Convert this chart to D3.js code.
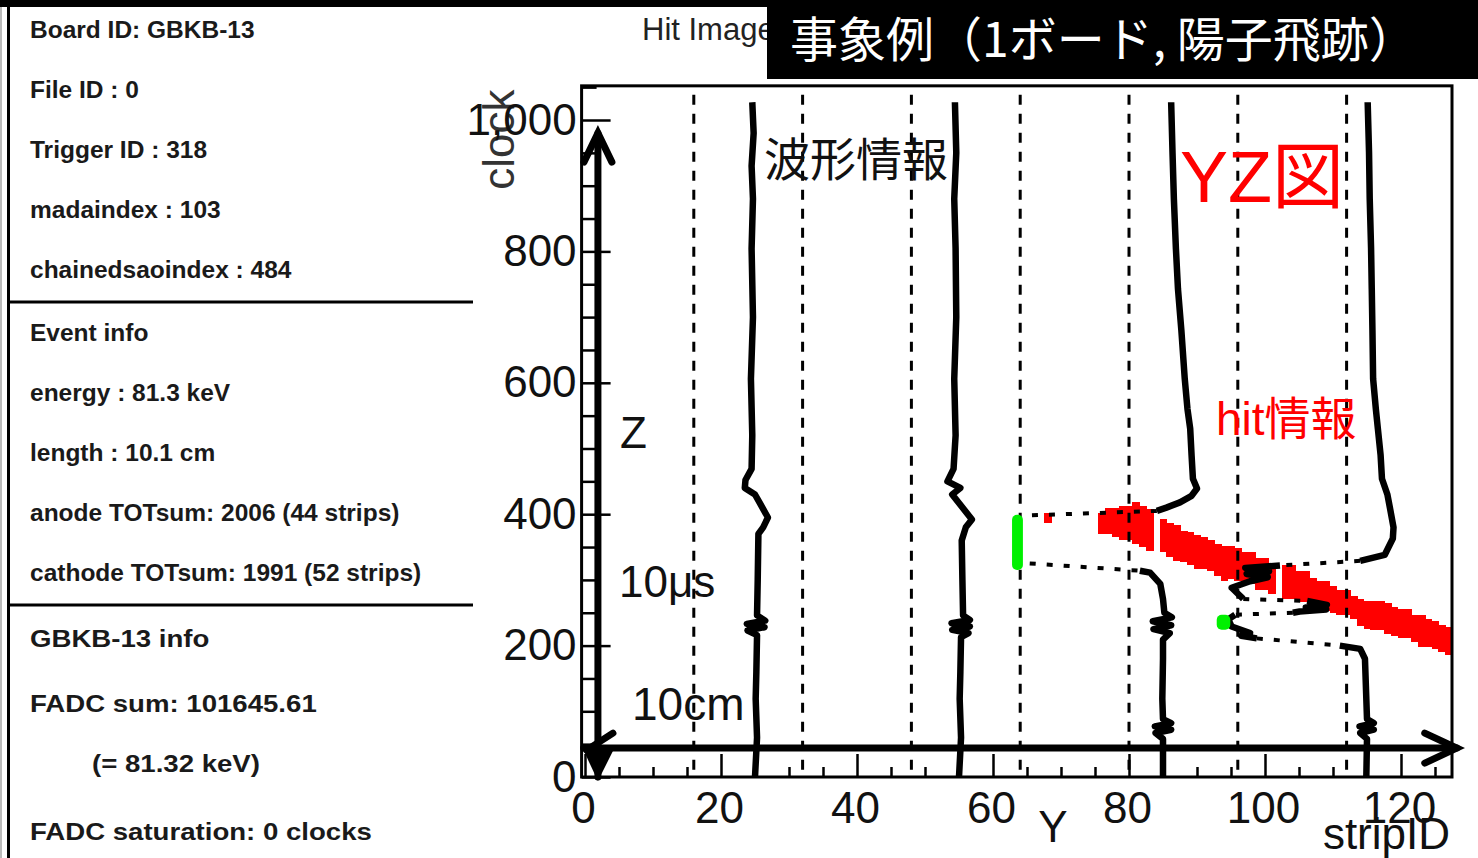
<!DOCTYPE html>
<html>
<head>
<meta charset="utf-8">
<script src="https://cdn.jsdelivr.net/npm/d3@7"></script>
<style>
body { margin: 0; background: #fff; }
svg { display: block; }
</style>
</head>
<body>
<div id="chart"></div>
<script>
var boardInfo = ["Board ID: GBKB-13", "File ID : 0", "Trigger ID : 318", "madaindex : 103", "chainedsaoindex : 484"];
var eventInfo = ["Event info", "energy : 81.3 keV", "length : 10.1 cm", "anode TOTsum: 2006 (44 strips)", "cathode TOTsum: 1991 (52 strips)"];
var fadcInfo  = ["GBKB-13 info", "FADC sum: 101645.61", "(= 81.32 keV)", "FADC saturation: 0 clocks"];

var xTicks = [0, 20, 40, 60, 80, 100, 120];
var yTicks = [0, 200, 400, 600, 800, 1000];
var boardEdges = [16, 32, 48, 64, 80, 96, 112];

// hit strips: [strip, clock low, clock high]
var hits = [
	[68, 386, 402], [76, 370, 402], [77, 370, 410], [78, 366, 410], [79, 360, 413],
	[80, 360, 413], [81, 355, 418], [82, 350, 413], [83, 344, 408], [85, 343, 393],
	[86, 335, 386], [87, 329, 383], [88, 328, 375], [89, 322, 373], [90, 317, 369],
	[91, 317, 366], [92, 313, 360], [93, 306, 355], [94, 299, 351], [95, 302, 351],
	[96, 299, 348], [97, 294, 343], [98, 294, 343], [99, 284, 333], [100, 284, 333],
	[101, 279, 326], [103, 271, 322], [104, 271, 322], [105, 267, 314], [106, 267, 314],
	[107, 261, 303], [108, 253, 299], [109, 253, 299], [110, 249, 291], [111, 246, 284],
	[112, 246, 284], [113, 241, 276], [114, 230, 271], [115, 226, 268], [116, 223, 268],
	[117, 223, 268], [118, 218, 265], [119, 215, 259], [120, 211, 255], [121, 211, 255],
	[122, 206, 246], [123, 198, 246], [124, 198, 241], [125, 195, 237], [126, 191, 232],
	[127, 185, 228]
];

// FADC waveforms drawn at their strip: [strip, clock, kind]  kind 0 = line, 1 = fast jump (dotted), 2 = not drawn
var wave25 = [
	[24.6, 1027, 0], [24.8, 980, 0], [24.5, 930, 0], [24.7, 880, 0], [24.5, 804, 0], [24.7, 700, 0],
	[24.4, 606, 0], [24.6, 520, 0], [24.5, 469, 0], [23.6, 452, 0], [23.5, 440, 0], [25.0, 430, 0],
	[26.9, 395, 0], [26.2, 380, 0], [25.5, 370, 0], [25.4, 300, 0], [25.3, 246, 0], [26.5, 238, 0],
	[23.8, 233, 0], [26.4, 228, 0], [23.9, 223, 0], [25.3, 216, 0], [25.2, 160, 0], [25.1, 119, 0],
	[25.3, 60, 0], [25.0, 0, 0]
];
var wave55 = [
	[54.4, 1027, 0], [54.6, 950, 0], [54.3, 880, 0], [54.5, 804, 0], [54.6, 700, 0], [54.3, 606, 0],
	[54.5, 520, 0], [54.2, 469, 0], [53.3, 450, 0], [55.2, 440, 0], [54.0, 430, 0], [56.9, 392, 0],
	[56.0, 380, 0], [55.4, 360, 0], [55.5, 300, 0], [55.6, 246, 0], [56.6, 239, 0], [53.9, 234, 0],
	[56.6, 229, 0], [54.0, 224, 0], [56.4, 219, 0], [55.3, 213, 0], [55.2, 160, 0], [55.1, 119, 0],
	[55.3, 60, 0], [55.0, 0, 0]
];
var wave85 = [
	[86.2, 1027, 0], [86.4, 950, 0], [86.6, 880, 0], [86.9, 804, 0], [87.2, 743, 0], [87.7, 680, 0],
	[88.2, 606, 0], [88.6, 560, 0], [89.0, 530, 0], [89.2, 490, 0], [89.4, 454, 0], [90.0, 439, 0],
	[89.2, 428, 0], [87.5, 418, 0], [85.5, 410, 0], [84.1, 405, 0], [64.7, 398, 1], [65.4, 325, 2],
	[81.6, 314, 1], [83.1, 311, 0], [84.6, 294, 0], [85.0, 271, 0], [85.2, 250, 0], [86.3, 243, 0],
	[83.5, 237, 0], [86.2, 231, 0], [83.6, 225, 0], [86.0, 219, 0], [85.0, 209, 0], [85.0, 180, 0],
	[84.9, 119, 0], [85.0, 88, 0], [86.2, 82, 0], [83.8, 77, 0], [86.2, 72, 0], [83.9, 67, 0],
	[85.0, 58, 0], [85.0, 0, 0]
];
var wave115 = [
	[115.1, 1027, 0], [115.3, 950, 0], [115.4, 880, 0], [115.6, 804, 0], [115.7, 743, 0], [115.8, 680, 0],
	[115.9, 606, 0], [116.3, 560, 0], [116.6, 530, 0], [117.0, 490, 0], [117.2, 454, 0], [118.0, 430, 0],
	[118.4, 408, 0], [118.9, 380, 0], [118.8, 363, 0], [117.6, 338, 0], [114.0, 329, 0], [102.2, 322, 1],
	[97.1, 318, 0], [100.6, 313, 0], [97.3, 309, 0], [100.4, 304, 0], [97.8, 298, 0], [95.1, 288, 0],
	[96.8, 271, 0], [106.2, 268, 1], [109.1, 262, 0], [106.0, 258, 0], [109.0, 255, 0], [105.1, 252, 0],
	[104.1, 250, 0], [95.6, 247, 1], [94.6, 240, 0], [95.1, 229, 0], [97.8, 219, 0], [96.5, 215, 0],
	[98.8, 211, 0], [111.0, 200, 1], [114.0, 195, 0], [114.7, 180, 0], [114.9, 119, 0], [115.0, 88, 0],
	[116.0, 82, 0], [113.9, 77, 0], [116.0, 72, 0], [114.0, 67, 0], [115.0, 58, 0], [114.9, 0, 0]
];
var waves = [wave25, wave55, wave85, wave115];

// waveform peaks (green): [strip lo, strip hi, clock lo, clock hi]
var peaks = [[62.8, 64.4, 315, 399], [92.9, 94.9, 224, 247]];

var W = 1478, H = 858;
var sans = "'Liberation Sans', Arial, Helvetica, sans-serif";
var cjk = "'Liberation Sans', 'Noto Sans CJK JP', sans-serif";

var svg = d3.select("#chart").append("svg")
	.attr("width", W)
	.attr("height", H);

svg.append("rect").attr("width", W).attr("height", H).attr("fill", "#fff");

// ---- left info panel ----
var panel = svg.append("g");
panel.append("rect").attr("x", 0).attr("y", 0).attr("width", W).attr("height", 7).attr("fill", "#000");
panel.append("line").attr("x1", 1).attr("x2", 1).attr("y1", 7).attr("y2", H).attr("stroke", "#bbb").attr("stroke-width", 2);
panel.append("line").attr("x1", 8.5).attr("x2", 8.5).attr("y1", 7).attr("y2", H).attr("stroke", "#000").attr("stroke-width", 3);
[302, 605].forEach(function(yy)
{
	panel.append("line").attr("x1", 9).attr("x2", 473).attr("y1", yy).attr("y2", yy)
		.attr("stroke", "#000").attr("stroke-width", 3);
});

panel.selectAll("text.board").data(boardInfo).enter().append("text")
	.attr("x", 30).attr("y", function(d, i) { return 38 + i * 60; })
	.attr("font-family", sans).attr("font-weight", "bold").attr("font-size", 24.5)
	.attr("fill", "#1a1a1a").text(function(d) { return d; });

panel.selectAll("text.event").data(eventInfo).enter().append("text")
	.attr("x", 30).attr("y", function(d, i) { return 341 + i * 60; })
	.attr("font-family", sans).attr("font-weight", "bold").attr("font-size", 24.5)
	.attr("fill", "#1a1a1a").text(function(d) { return d; });

var fadcY = [647, 712, 772, 840];
panel.selectAll("text.fadc").data(fadcInfo).enter().append("text")
	.attr("transform", function(d, i) { return "translate(" + (i === 2 ? 92 : 30) + "," + fadcY[i] + ") scale(1.2,1)"; })
	.attr("font-family", sans).attr("font-weight", "bold").attr("font-size", 23)
	.attr("fill", "#1a1a1a").text(function(d) { return d; });

// ---- titles ----
svg.append("text").attr("x", 642).attr("y", 40)
	.attr("font-family", sans).attr("font-size", 31).attr("fill", "#222").text("Hit Image");

svg.append("rect").attr("x", 767).attr("y", 0).attr("width", W - 767).attr("height", 79).attr("fill", "#000");
svg.append("text").attr("x", 790).attr("y", 57)
	.attr("font-family", "'Noto Sans CJK JP', sans-serif").attr("font-size", 48).attr("fill", "#fff")
	.text("事象例（1ボード, 陽子飛跡）");

// ---- plot ----
var x = d3.scaleLinear().domain([0, 120]).range([585, 1401]);
var y = d3.scaleLinear().domain([0, 1000]).range([777, 120]);
var frameL = x(-0.5), frameR = x(127.5), frameT = y(1052), frameB = y(0);

svg.append("text")
	.attr("transform", "translate(514," + y(970) + ") rotate(-90)")
	.attr("text-anchor", "middle")
	.attr("font-family", sans).attr("font-size", 44).attr("fill", "#333").text("clock");

var plot = svg.append("g");

plot.selectAll("rect.hit").data(hits).enter().append("rect")
	.attr("x", function(d) { return x(d[0] - 0.5); })
	.attr("width", function(d) { return x(d[0] + 0.5) - x(d[0] - 0.5) + 0.8; })
	.attr("y", function(d) { return y(d[2]); })
	.attr("height", function(d) { return y(d[1]) - y(d[2]); })
	.attr("shape-rendering", "crispEdges")
	.attr("fill", "#ff0000");

plot.selectAll("line.edge").data(boardEdges).enter().append("line")
	.attr("x1", function(d) { return x(d); }).attr("x2", function(d) { return x(d); })
	.attr("y1", frameT + 9).attr("y2", frameB)
	.attr("stroke", "#000").attr("stroke-width", 3).attr("stroke-dasharray", "10,9");

function pieces(w)
{
	var out = [], cur = null;
	w.forEach(function(p, i)
	{
		if (i === 0) return;
		if (!cur || cur.kind !== p[2]) { cur = {kind: p[2], pts: [w[i - 1]]}; out.push(cur); }
		cur.pts.push(p);
	});
	return out.filter(function(s) { return s.kind !== 2; });
}

var line = d3.line().x(function(d) { return x(d[0]); }).y(function(d) { return y(d[1]); });

waves.forEach(function(w)
{
	plot.selectAll(null).data(pieces(w)).enter().append("path")
		.attr("d", function(s) { return line(s.pts); })
		.attr("fill", "none").attr("stroke", "#000")
		.attr("stroke-width", function(s) { return s.kind === 1 ? 4 : 6.5; })
		.attr("stroke-dasharray", function(s) { return s.kind === 1 ? "6,11" : null; })
		.attr("stroke-linejoin", "round");
});

plot.selectAll("rect.peak").data(peaks).enter().append("rect")
	.attr("x", function(d) { return x(d[0]); })
	.attr("width", function(d) { return x(d[1]) - x(d[0]); })
	.attr("y", function(d) { return y(d[3]); })
	.attr("height", function(d) { return y(d[2]) - y(d[3]); })
	.attr("rx", 5).attr("fill", "#00f000");

// ---- axes: ticks inside the frame ----
var yMinor = d3.range(50, 1051, 50).filter(function(v) { return v % 200 !== 0; });
var xMinor = d3.range(5, 128, 5).filter(function(v) { return v % 20 !== 0; });

function clean(g)
{
	g.select(".domain").remove();
	g.selectAll("line").attr("stroke", "#000").attr("stroke-width", 2.5);
}

svg.append("g").attr("transform", "translate(" + frameL + ",0)")
	.call(d3.axisLeft(y).tickValues(yMinor).tickSize(-15).tickFormat(""))
	.call(clean);
svg.append("g").attr("transform", "translate(" + frameL + ",0)")
	.call(d3.axisLeft(y).tickValues(yTicks).tickSize(-29).tickPadding(5))
	.call(clean)
	.call(function(g) { g.selectAll("text").attr("font-family", sans).attr("font-size", 44).attr("fill", "#111"); });

svg.append("g").attr("transform", "translate(0," + frameB + ")")
	.call(d3.axisBottom(x).tickValues(xMinor).tickSize(-10).tickFormat(""))
	.call(clean);
svg.append("g").attr("transform", "translate(0," + frameB + ")")
	.call(d3.axisBottom(x).tickValues(xTicks).tickSize(-23).tickPadding(15))
	.call(clean)
	.call(function(g) { g.selectAll("text").attr("font-family", sans).attr("font-size", 44).attr("fill", "#111").attr("dx", -2); });

svg.append("rect")
	.attr("x", frameL).attr("y", frameT)
	.attr("width", frameR - frameL).attr("height", frameB - frameT)
	.attr("fill", "none").attr("stroke", "#000").attr("stroke-width", 3);

// ---- slide annotations (arrows and labels) ----
var ann = svg.append("g").attr("stroke", "#000").attr("stroke-linecap", "round").attr("fill", "none");
var ax = x(1.9), ay = y(44), tipY = y(980), tipX = x(128.2);

ann.append("line").attr("x1", ax).attr("x2", ax).attr("y1", frameB).attr("y2", tipY).attr("stroke-width", 7);
ann.append("polyline").attr("points", [[ax - 14, tipY + 29], [ax, tipY], [ax + 14, tipY + 29]].join(" ")).attr("stroke-width", 7);

ann.append("line").attr("x1", frameL + 2).attr("x2", tipX).attr("y1", ay).attr("y2", ay).attr("stroke-width", 7);
ann.append("polyline").attr("points", [[tipX - 32, ay - 15], [tipX, ay], [tipX - 32, ay + 15]].join(" ")).attr("stroke-width", 7);

ann.append("line").attr("x1", ax + 15).attr("y1", ay - 15).attr("x2", frameL + 5).attr("y2", ay + 2).attr("stroke-width", 7);
svg.append("path")
	.attr("d", "M" + (ax - 14) + "," + (ay + 3) + "L" + (ax + 15) + "," + (ay + 3) + "L" + ax + "," + (frameB + 4) + "Z")
	.attr("fill", "#000");

function label(tx, ty, str, size, color, anchor, family)
{
	svg.append("text").attr("x", tx).attr("y", ty)
		.attr("font-family", family || sans).attr("font-size", size)
		.attr("fill", color || "#111").attr("text-anchor", anchor || "start")
		.text(str);
}

label(620, 448, "Z", 44);
label(619, 597, "10μs", 44);
label(632, 720, "10cm", 46);
label(1053, 842, "Y", 44, "#111", "middle");
label(1450, 849, "stripID", 44, "#111", "end");
label(764, 176, "波形情報", 46, "#111", "start", cjk);
label(1180, 202, "YZ図", 72, "#ff0000", "start", cjk);
label(1216, 435, "hit情報", 46, "#ff0000", "start", cjk);
</script>
</body>
</html>
